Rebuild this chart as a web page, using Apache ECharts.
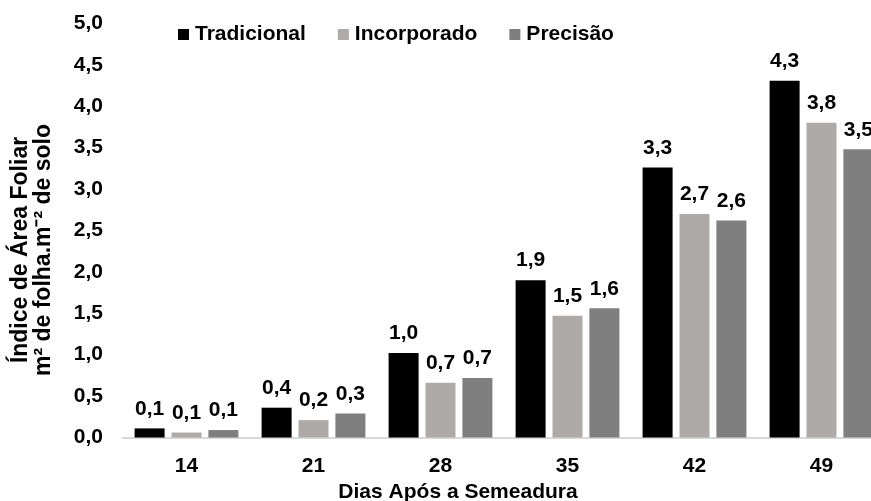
<!DOCTYPE html>
<html>
<head>
<meta charset="utf-8">
<script src="https://cdn.jsdelivr.net/npm/echarts@6/dist/echarts.min.js"></script>
<style>
  html, body { margin: 0; padding: 0; background: #ffffff; }
  #chart { width: 871px; height: 501px; }
</style>
</head>
<body>
<div id="chart"></div>
<script>
// Leaf area index by days after sowing, for three planting systems
const days = ['14', '21', '28', '35', '42', '49'];
const tradicional = [0.11, 0.36, 1.02, 1.90, 3.26, 4.31];
const incorporado = [0.06, 0.21, 0.66, 1.47, 2.70, 3.80];
const precisao    = [0.09, 0.29, 0.72, 1.56, 2.62, 3.48];
const seriesNames = ['Tradicional', 'Incorporado', 'Precisão'];
const seriesColors = ['#000000', '#aeaaaa', '#7f7f7f'];
const yTicks = [0, 0.5, 1, 1.5, 2, 2.5, 3, 3.5, 4, 4.5, 5];

const FONT = '"Liberation Sans", Arial, sans-serif';
const fmt = v => v.toFixed(1).replace('.', ',');

const chart = echarts.init(document.getElementById('chart'), null, { renderer: 'canvas' });

const seriesData = [tradicional, incorporado, precisao];

chart.setOption({
  animation: false,
  textStyle: { fontFamily: FONT },
  // the last group runs past the right edge of the canvas
  grid: { left: 123, top: 23.5, width: 762, height: 414, outerBoundsMode: 'none', containLabel: false },
  legend: {
    left: 178,
    top: 24,
    padding: 0,
    itemWidth: 11,
    itemHeight: 11,
    itemGap: 32,
    icon: 'rect',
    textStyle: { fontFamily: FONT, fontSize: 21, fontWeight: 'bold', color: '#000', padding: [0, 0, 0, 1] },
    data: seriesNames
  },
  xAxis: {
    type: 'category',
    data: days,
    axisLine: { lineStyle: { color: '#d9d9d9', width: 2 } },
    axisTick: { show: false },
    axisLabel: { margin: 18, fontFamily: FONT, fontSize: 21, fontWeight: 'bold', color: '#000' }
  },
  yAxis: {
    type: 'value',
    min: yTicks[0],
    max: yTicks[yTicks.length - 1],
    interval: 0.5,
    splitLine: { show: false },
    axisLine: { show: false },
    axisTick: { show: false },
    axisLabel: {
      margin: 20, padding: [3, 0, 0, 0],
      fontFamily: FONT, fontSize: 21, fontWeight: 'bold', color: '#000',
      formatter: v => fmt(v)
    }
  },
  title: {
    text: 'Dias Após a Semeadura',
    left: 458,
    top: 482,
    padding: 0,
    textAlign: 'center',
    textStyle: { fontFamily: FONT, fontSize: 21, fontWeight: 'bold', color: '#000' }
  },
  graphic: [{
    type: 'text',
    x: 32,
    y: 250,
    rotation: Math.PI / 2,
    style: {
      text: 'Índice de Área Foliar\nm² de folha.m⁻² de solo',
      fontFamily: FONT,
      fontSize: 23,
      fontWeight: 'bold',
      fill: '#000',
      align: 'center',
      verticalAlign: 'middle',
      lineHeight: 23
    }
  }],
  series: seriesNames.map((name, i) => ({
    name: name,
    type: 'bar',
    data: seriesData[i],
    barWidth: 30,
    barGap: '23%',
    barCategoryGap: '18%',
    itemStyle: { color: seriesColors[i] },
    label: {
      show: true,
      position: 'top',
      distance: 9,
      fontFamily: FONT,
      fontSize: 21,
      fontWeight: 'bold',
      color: '#000',
      formatter: p => fmt(p.value)
    }
  }))
});
</script>
</body>
</html>
